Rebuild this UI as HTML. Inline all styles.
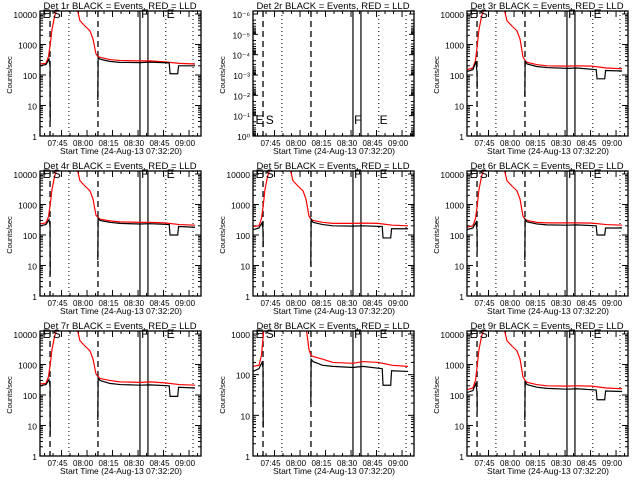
<!DOCTYPE html>
<html><head><meta charset="utf-8"><style>
html,body{margin:0;padding:0;background:#fff;}
svg{display:block;font-family:"Liberation Sans",sans-serif;}
</style></head><body>
<svg id="chart" width="640" height="480" viewBox="0 0 640 480" xmlns="http://www.w3.org/2000/svg"></svg>
<script>
// time in minutes since 07:32:20
const tickLabels = ["07:45","08:00","08:15","08:30","08:45","09:00"];
const tickMinutes = [12.67,27.67,42.67,57.67,72.67,87.67];
const dashedLines = [5.9,34.1];
const dottedLines = [17,74,90];
const solidLines = [58.8,63.5];
const detNames = ["1r","2r","3r","4r","5r","6r","7r","8r","9r"];
const yMaxDecade = [4,null,4,4,4,4,4,3,4];

const redTimes = [0,3.5,5,6,7,8.5,10,21.8,23.5,26.5,29.4,31.2,32.9,34.1,35.3,41,47,58.8,64.7,73.5,82,91.2];
const red1 = [230,240,400,1000,3000,8000,15000,15000,6000,4000,2800,1500,500,400,380,320,300,290,290,270,240,230];
const red3 = [150,170,300,900,3000,8000,15000,15000,6000,4000,2800,1500,400,300,260,220,200,195,200,195,170,160];
const red4 = [230,250,400,1000,3000,8000,15000,15000,6000,4000,2800,1500,450,380,330,290,270,260,260,250,220,210];
const red5 = [190,200,350,900,3000,8000,15000,15000,6000,4000,2800,1500,420,330,300,260,240,240,245,240,210,200];
const red6 = [180,200,350,900,3000,8000,15000,15000,6000,4000,2800,1500,420,330,300,260,250,250,250,245,220,210];
const red7 = [230,240,400,1000,3000,8000,15000,15000,6000,4000,2800,1500,500,400,350,300,270,260,270,250,220,210];
const red8 = [160,170,300,900,3000,8000,15000,15000,6000,4000,2800,1500,420,300,280,240,200,190,210,200,170,160];
const red9 = [150,170,300,900,3000,8000,15000,15000,6000,4000,2800,1500,400,300,260,220,200,195,200,195,170,160];

const blackPreTimes = [0,3.5,5.3,5.9,6.0];
const blackPostTimes = [34.0,34.2,35.3,41,47,58.8,64.7,76,76.5,81,81.5,91.2];
const blackPre1 = [200,220,330,200,3];
const blackPost1 = [15,370,330,280,260,255,265,250,110,110,200,200];
const blackPre3 = [130,150,280,120,35];
const blackPost3 = [20,280,230,190,175,165,170,150,75,75,140,135];
const blackPre4 = [200,220,320,200,5];
const blackPost4 = [15,350,300,260,240,230,235,220,100,100,190,180];
const blackPre5 = [150,170,250,150,40];
const blackPost5 = [10,330,260,220,200,195,200,190,80,80,160,160];
const blackPre6 = [150,170,260,150,30];
const blackPost6 = [15,330,270,230,215,210,215,200,100,100,170,170];
const blackPre7 = [200,220,320,200,5];
const blackPost7 = [15,360,300,240,220,210,215,200,90,90,180,170];
const blackPre8 = [120,140,200,150,5];
const blackPost8 = [20,240,210,170,160,150,160,140,55,55,125,120];
const blackPre9 = [120,140,250,120,30];
const blackPost9 = [15,270,220,180,165,155,160,145,70,70,135,130];

const redSeries = [red1,null,red3,red4,red5,red6,red7,red8,red9];
const blackPre = [blackPre1,null,blackPre3,blackPre4,blackPre5,blackPre6,blackPre7,blackPre8,blackPre9];
const blackPost = [blackPost1,null,blackPost3,blackPost4,blackPost5,blackPost6,blackPost7,blackPost8,blackPost9];

const NS="http://www.w3.org/2000/svg";
const svg=document.getElementById('chart');
function mk(tag,attrs,parent){const e=document.createElementNS(NS,tag);for(const k in attrs)e.setAttribute(k,attrs[k]);parent.appendChild(e);return e;}

const L=40,R=201,T=11,B=136,TMAX=94.7;
function xs(t){return L+t*(R-L)/TMAX;}

for(let p=0;p<9;p++){
  const ox=[0,213,427][p%3], oy=[0,160,320][Math.floor(p/3)];
  const g=mk('g',{transform:`translate(${ox},${oy})`},svg);
  
  
  const cid='clip'+p;
  const cp=mk('clipPath',{id:cid},g);mk('rect',{x:L,y:T,width:R-L,height:B-T},cp);
  let ys;
  if(p===1){
    ys=function(v){return B-(v)*(B-T-3)/6;};
  } else {
    const top=yMaxDecade[p];
    const ppd=(B-14)/top;
    ys=function(v){return B-Math.log10(Math.max(v,1e-3))*ppd;};
  }
  const ti=mk('text',{x:120,y:9,'text-anchor':'middle','font-size':'9.5'},g);
  ti.textContent='Det '+detNames[p]+' BLACK = Events, RED = LLD';
  
  
  const xl=mk('text',{x:121,y:154,'text-anchor':'middle','font-size':'8.5'},g);
  xl.textContent='Start Time (24-Aug-13 07:32:20)';
  
  
  const yl=mk('text',{x:12,y:75,'text-anchor':'middle','font-size':'7.5','transform':'rotate(-90 12 75)'},g);
  yl.textContent='Counts/sec';
  
  
  for(let m=2.67;m<TMAX;m+=5){
    const x=xs(m);const major=Math.abs((m-12.67)%15)<0.01;
    const len=major?6:3;
    mk('line',{x1:x,x2:x,y1:B,y2:B-len,stroke:'#000','stroke-width':1},g);
    mk('line',{x1:x,x2:x,y1:T,y2:T+len,stroke:'#000','stroke-width':1},g);
  }
  tickLabels.forEach((lab,i)=>{
    const t=mk('text',{x:xs(tickMinutes[i])-4,y:146,'text-anchor':'middle','font-size':'8'},g);
    t.textContent=lab;
    
    
  });
  if(p===1){
    const labs=['10\u207B\u2076','10\u207B\u2075','10\u207B\u2074','10\u207B\u00B3','10\u207B\u00B2','10\u207B\u00B9','10\u2070'];
    for(let i=0;i<=6;i++){
      const y=T+3+i*(B-T-3)/6;
      mk('line',{x1:L,x2:L+5,y1:y,y2:y,stroke:'#000'},g);
      mk('line',{x1:R,x2:R-5,y1:y,y2:y,stroke:'#000'},g);
      for(let k=2;k<10;k++){const yy=y+Math.log10(k)*(B-T-3)/6; if(yy<B){mk('line',{x1:L,x2:L+3,y1:yy,y2:yy,stroke:'#000'},g);mk('line',{x1:R,x2:R-3,y1:yy,y2:yy,stroke:'#000'},g);}}
      const t=mk('text',{x:37,y:y+4,'text-anchor':'end','font-size':'8.5'},g);
      t.textContent=labs[i];
      
      
    }
  } else {
    const top=yMaxDecade[p];
    for(let d=0;d<=top;d++){
      const y=ys(Math.pow(10,d));
      mk('line',{x1:L,x2:L+6,y1:y,y2:y,stroke:'#000'},g);
      mk('line',{x1:R,x2:R-6,y1:y,y2:y,stroke:'#000'},g);
      if(d<top)for(let k=2;k<10;k++){const yy=ys(k*Math.pow(10,d));mk('line',{x1:L,x2:L+3,y1:yy,y2:yy,stroke:'#000'},g);mk('line',{x1:R,x2:R-3,y1:yy,y2:yy,stroke:'#000'},g);}
      const t=mk('text',{x:37,y:y+4,'text-anchor':'end','font-size':'8.5'},g);
      t.textContent=String(Math.pow(10,d));
      
      
    }
  }
  const cg=mk('g',{'clip-path':`url(#${cid})`},g);
  dashedLines.forEach(t=>{const l=mk('line',{x1:xs(t),x2:xs(t),y1:T,y2:B,stroke:'#000','stroke-dasharray':'6,4','stroke-width':1.3},cg);});
  dottedLines.forEach(t=>{const l=mk('line',{x1:xs(t),x2:xs(t),y1:T,y2:B,stroke:'#000','stroke-dasharray':'1,3','stroke-width':1},cg);});
  solidLines.forEach(t=>{const l=mk('line',{x1:xs(t),x2:xs(t),y1:T,y2:B,stroke:'#000','stroke-width':1.2},cg);});
  if(redSeries[p]){
    const pl=mk('polyline',{points:redTimes.map((t,i)=>xs(t)+','+ys(redSeries[p][i])).join(' '),fill:'none',stroke:'#f00','stroke-width':1.2},cg);
    
    
    const b1=mk('polyline',{points:blackPreTimes.map((t,i)=>xs(t)+','+ys(blackPre[p][i])).join(' '),fill:'none',stroke:'#000','stroke-width':1.2},cg);
    
    
    const b2=mk('polyline',{points:blackPostTimes.map((t,i)=>xs(t)+','+ys(blackPost[p][i])).join(' '),fill:'none',stroke:'#000','stroke-width':1.2},cg);
    
    
  }
  const ly = p===1 ? 124 : 18;
  [['E',1.5],['S',7.5],['F',59.5],['E',74.5]].forEach(([s,t])=>{
    const e=mk('text',{x:xs(t),y:ly,'font-size':'12'},g);
    e.textContent=s;
    
    
  });
  mk('rect',{x:L,y:T,width:R-L,height:B-T,fill:'none',stroke:'#000','stroke-width':1.3},g);
}
</script>
</body></html>
